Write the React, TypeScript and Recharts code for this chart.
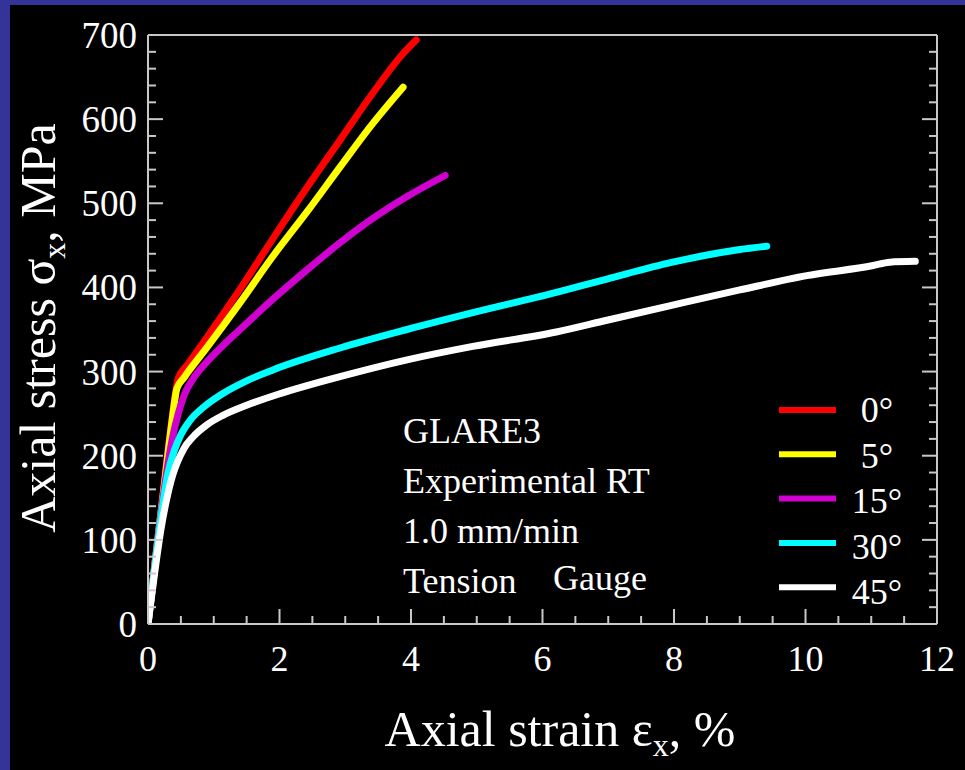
import React from "react";
import { LineChart, Line, XAxis, YAxis } from "recharts";

// ---- data (strain %, stress MPa) ----
const RED_0: [number, number][] = [
  [0, 0], [0.11, 76], [0.25, 170], [0.38, 252], [0.46, 292], [0.6, 308], [0.89, 340],
  [1.2, 375], [1.4, 398], [1.9, 458], [2.42, 519], [2.92, 575], [3.42, 631], [3.88, 678], [4.08, 694],
];
const YELLOW_5: [number, number][] = [
  [0, 0], [0.11, 74], [0.25, 166], [0.36, 238], [0.44, 280], [0.55, 293], [0.9, 329],
  [1.4, 382], [1.9, 437], [2.42, 490], [2.92, 543], [3.42, 595], [3.88, 638],
];
const MAGENTA_15: [number, number][] = [
  [0, 0], [0.11, 74], [0.25, 162], [0.38, 224], [0.46, 250], [0.55, 272], [0.7, 293],
  [0.89, 311], [1.14, 331], [1.4, 350], [1.9, 386], [2.42, 421], [2.92, 453], [3.42, 482],
  [3.94, 508], [4.52, 533],
];
const CYAN_30: [number, number][] = [
  [0, 0], [0.1, 66], [0.2, 128], [0.3, 178], [0.4, 206], [0.5, 225], [0.64, 242], [0.85, 258],
  [1.14, 274], [1.5, 289], [1.9, 302], [2.92, 328], [3.94, 350], [4.94, 370], [6.21, 394],
  [6.98, 410], [7.98, 430], [9.0, 445], [9.41, 449],
];
const WHITE_45: [number, number][] = [
  [0, 0], [0.1, 60], [0.2, 114], [0.3, 154], [0.38, 178], [0.44, 191], [0.55, 209], [0.68, 222],
  [0.9, 237], [1.14, 248], [1.5, 260], [1.9, 271], [2.92, 294], [3.94, 314], [4.94, 330],
  [6.21, 347], [6.98, 361], [7.98, 379], [9.0, 397], [10.02, 414], [11.03, 426], [11.28, 430],
  [11.67, 431],
];

const SERIES_NAMES = ["0°", "5°", "15°", "30°", "45°"];
const SERIES_COLORS = ["#ff0000", "#ffff00", "#d000d0", "#00ffff", "#ffffff"];
const SERIES_DATA = [RED_0, YELLOW_5, MAGENTA_15, CYAN_30, WHITE_45];

const X_TICKS = [0, 0.5, 1, 1.5, 2, 2.5, 3, 3.5, 4, 4.5, 5, 5.5, 6, 6.5, 7, 7.5, 8, 8.5, 9, 9.5, 10, 10.5, 11, 11.5, 12];
const X_LABELS = [0, 2, 4, 6, 8, 10, 12];
const Y_TICKS = [0, 20, 40, 60, 80, 100, 120, 140, 160, 180, 200, 220, 240, 260, 280, 300, 320, 340, 360, 380, 400,
  420, 440, 460, 480, 500, 520, 540, 560, 580, 600, 620, 640, 660, 680, 700];
const Y_LABELS = [0, 100, 200, 300, 400, 500, 600, 700];

const NOTES = ["GLARE3", "Experimental RT", "1.0 mm/min"];

const FONT = '"Liberation Serif", "Times New Roman", serif';
const AXIS_COLOR = "#c8c8c8";
const MAJOR = 15;
const MINOR = 8;

const toRows = (pts: [number, number][]) => pts.map(([x, y]) => ({ x, y }));

const BottomTick = (p: any) => {
  const v = p.payload.value;
  const major = X_LABELS.includes(v);
  return (
    <g>
      <line x1={p.x} y1={p.y} x2={p.x} y2={p.y - (major ? MAJOR : MINOR)} stroke={AXIS_COLOR} strokeWidth={2} />
      {major && (
        <text x={p.x} y={p.y + 47} textAnchor="middle" fill="#ffffff" fontSize={36} fontFamily={FONT}>
          {v}
        </text>
      )}
    </g>
  );
};
const TopTick = (p: any) => {
  const major = X_LABELS.includes(p.payload.value);
  return <line x1={p.x} y1={p.y} x2={p.x} y2={p.y + (major ? MAJOR : MINOR)} stroke={AXIS_COLOR} strokeWidth={2} />;
};
const LeftTick = (p: any) => {
  const v = p.payload.value;
  const major = Y_LABELS.includes(v);
  return (
    <g>
      <line x1={p.x} y1={p.y} x2={p.x + (major ? MAJOR : MINOR)} y2={p.y} stroke={AXIS_COLOR} strokeWidth={2} />
      {major && (
        <text x={p.x - 11} y={p.y + 13} textAnchor="end" fill="#ffffff" fontSize={37} fontFamily={FONT}>
          {v}
        </text>
      )}
    </g>
  );
};
const RightTick = (p: any) => {
  const major = Y_LABELS.includes(p.payload.value);
  return <line x1={p.x} y1={p.y} x2={p.x - (major ? MAJOR : MINOR)} y2={p.y} stroke={AXIS_COLOR} strokeWidth={2} />;
};

export default function App() {
  return (
    <div style={{ position: "absolute", left: 0, top: 0, width: 965, height: 770, background: "#333399", overflow: "hidden" }}>
      <div style={{ position: "absolute", left: 10, top: 5, width: 955, height: 765, background: "#000000" }} />
      <div style={{ position: "absolute", left: 0, top: 0 }}>
        <LineChart width={965} height={770} margin={{ top: 0, right: 0, bottom: 0, left: 0 }}>
          <XAxis
            xAxisId={0}
            dataKey="x"
            type="number"
            domain={[0, 12]}
            ticks={X_TICKS}
            interval={0}
            allowDataOverflow
            height={146}
            tickSize={0}
            tickMargin={0}
            tickLine={false}
            axisLine={{ stroke: AXIS_COLOR, strokeWidth: 2 }}
            tick={<BottomTick />}
          />
          <XAxis
            xAxisId="top"
            orientation="top"
            type="number"
            domain={[0, 12]}
            ticks={X_TICKS}
            interval={0}
            allowDataOverflow
            height={35}
            tickSize={0}
            tickMargin={0}
            tickLine={false}
            axisLine={{ stroke: AXIS_COLOR, strokeWidth: 2 }}
            tick={<TopTick />}
          />
          <YAxis
            yAxisId={0}
            type="number"
            domain={[0, 700]}
            ticks={Y_TICKS}
            interval={0}
            allowDataOverflow
            width={148}
            tickSize={0}
            tickMargin={0}
            tickLine={false}
            axisLine={{ stroke: AXIS_COLOR, strokeWidth: 2 }}
            tick={<LeftTick />}
          />
          <YAxis
            yAxisId="right"
            orientation="right"
            type="number"
            domain={[0, 700]}
            ticks={Y_TICKS}
            interval={0}
            allowDataOverflow
            width={28}
            tickSize={0}
            tickMargin={0}
            tickLine={false}
            axisLine={{ stroke: AXIS_COLOR, strokeWidth: 2 }}
            tick={<RightTick />}
          />
          {SERIES_DATA.map((d, i) => (
            <Line
              key={SERIES_NAMES[i]}
              xAxisId={0}
              yAxisId={0}
              data={toRows(d)}
              dataKey="y"
              type="monotone"
              stroke={SERIES_COLORS[i]}
              strokeWidth={7}
              strokeLinecap="round"
              strokeLinejoin="round"
              dot={false}
              activeDot={false}
              isAnimationActive={false}
            />
          ))}
        </LineChart>
      </div>
      <svg width={965} height={770} style={{ position: "absolute", left: 0, top: 0, pointerEvents: "none" }}>
        {/* Y axis title */}
        <text
          transform="translate(55,328) rotate(-90)"
          textAnchor="middle"
          fill="#ffffff"
          fontSize={50}
          fontFamily={FONT}
        >
          Axial stress σ<tspan fontSize={32} dy={10}>x</tspan>
          <tspan dy={-10}>, MPa</tspan>
        </text>
        {/* X axis title */}
        <text x={560} y={746} textAnchor="middle" fill="#ffffff" fontSize={50} fontFamily={FONT}>
          Axial strain ε<tspan fontSize={32} dy={10}>x</tspan>
          <tspan dy={-10}>, %</tspan>
        </text>
        {/* annotation */}
        {NOTES.map((t, i) => (
          <text key={t} x={403} y={443 + i * 50} fill="#ffffff" fontSize={36} fontFamily={FONT}>
            {t}
          </text>
        ))}
        <text x={403} y={593} fill="#ffffff" fontSize={36} fontFamily={FONT}>Tension</text>
        <text x={553} y={590} fill="#ffffff" fontSize={36} fontFamily={FONT}>Gauge</text>
        {/* legend */}
        {SERIES_NAMES.map((n, i) => (
          <g key={n}>
            <line x1={779} x2={836} y1={410 + i * 44.3} y2={410 + i * 44.3} stroke={SERIES_COLORS[i]} strokeWidth={6} />
            <text x={877} y={422 + i * 45.5} textAnchor="middle" fill="#ffffff" fontSize={36} fontFamily={FONT}>
              {n}
            </text>
          </g>
        ))}
      </svg>
    </div>
  );
}
